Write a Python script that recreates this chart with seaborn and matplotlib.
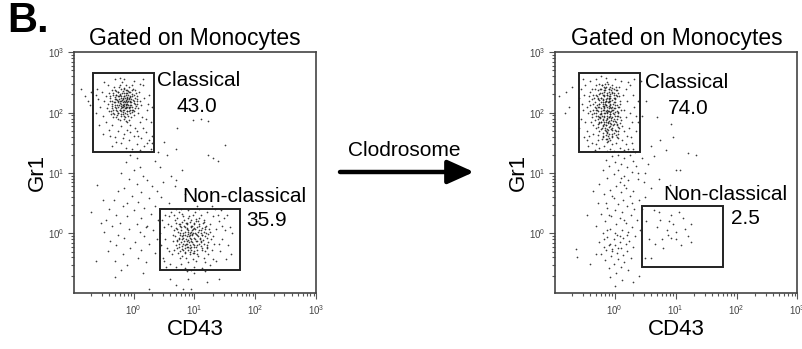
import numpy as np
import pandas as pd
import seaborn as sns
import matplotlib
matplotlib.use("Agg")
import matplotlib.pyplot as plt
from matplotlib.patches import Rectangle
from matplotlib.ticker import LogLocator, FixedLocator, NullFormatter, FixedFormatter

# ---------------- data (log10 of CD43, log10 of Gr1) ----------------
left_classical = [
    (-0.15,2.15),(-0.22,2.05),(-0.08,2.22),(-0.30,2.18),(-0.12,2.30),(-0.02,2.10),(-0.25,2.28),(-0.18,1.98),(-0.05,2.35),(-0.35,2.08),
    (-0.10,2.02),(-0.28,2.36),(-0.20,2.20),(0.02,2.25),(-0.14,1.92),(-0.38,2.25),(-0.06,2.05),(-0.24,2.12),(-0.16,2.40),(0.05,2.15),
    (-0.32,1.98),(-0.11,2.18),(-0.27,2.02),(-0.03,2.28),(-0.19,2.33),(-0.42,2.15),(-0.09,1.95),(-0.21,2.24),(0.00,2.02),(-0.33,2.30),
    (-0.13,2.08),(-0.26,1.90),(-0.07,2.42),(-0.17,2.12),(-0.40,2.02),(0.04,2.32),(-0.23,2.45),(-0.12,1.86),(-0.29,2.22),(-0.04,2.18),
    (-0.36,2.38),(-0.15,2.27),(0.08,2.08),(-0.20,1.94),(-0.31,2.12),(-0.09,2.12),(-0.45,2.28),(-0.01,2.40),(-0.18,2.05),(-0.25,2.35),
    (0.10,2.20),(-0.14,2.00),(-0.34,1.92),(-0.06,2.26),(-0.22,2.16),(-0.11,2.38),(-0.28,2.08),(0.01,1.96),(-0.39,2.20),(-0.17,2.22),
    (-0.08,1.88),(-0.24,2.42),(0.06,2.28),(-0.30,2.26),(-0.13,2.14),(-0.19,2.50),(-0.02,2.04),(-0.43,2.08),(-0.10,2.32),(-0.27,1.96),
    (0.12,2.12),(-0.16,1.90),(-0.35,2.14),(-0.05,2.20),(-0.21,2.08),(-0.12,2.46),(-0.32,2.42),(0.03,2.38),(-0.18,2.36),(-0.26,2.20),
    (-0.07,2.10),(-0.23,1.88),(-0.14,2.24),(-0.37,1.98),(0.07,2.00),(-0.10,2.26),(-0.29,2.30),(-0.04,1.92),(-0.20,2.28),(-0.48,2.20),
    (0.00,2.16),(-0.15,2.04),(-0.33,2.04),(-0.09,2.36),(-0.25,2.00),(0.09,2.34),(-0.12,2.10),(-0.40,2.32),(-0.18,2.18),(-0.03,2.46),
    (-0.14,2.17),(-0.19,2.09),(-0.07,2.25),(-0.27,2.13),(-0.11,2.03),(-0.01,2.21),(-0.23,2.31),(-0.17,2.01),(-0.04,2.13),(-0.31,2.23),
    (-0.09,2.29),(-0.21,1.97),(-0.13,2.37),(0.03,2.07),(-0.25,2.17),(-0.06,1.99),(-0.35,2.11),(-0.16,2.27),(-0.02,2.31),(-0.29,2.05),
    (-0.10,2.15),(-0.20,2.39),(0.01,2.19),(-0.33,2.33),(-0.15,1.95),(-0.05,2.09),(-0.24,2.23),(-0.12,2.21),(-0.37,2.03),(0.05,2.23),
    (-0.18,2.13),(-0.08,2.35),(-0.28,1.93),(-0.03,2.01),(-0.22,2.29),(-0.14,2.07),(-0.32,2.17),(0.00,2.29),(-0.19,2.21),(-0.10,1.97),
    (-0.26,2.09),(-0.06,2.17),(-0.16,2.33),(-0.39,2.27),(0.04,2.11),(-0.21,2.03),(-0.11,2.25),(-0.30,2.37),(-0.04,2.23),(-0.17,2.09),
    (-0.24,2.27),(-0.08,2.07),(-0.34,1.99),(-0.13,2.19),(0.02,2.15),(-0.27,2.21),(-0.15,2.11),(-0.05,2.27),(-0.20,2.15),(-0.12,2.33),
    (-0.36,2.19),(-0.01,2.05),(-0.23,2.05),(-0.09,2.19),(-0.18,2.25),(-0.28,2.29),(-0.07,2.03),(-0.16,2.19),(-0.03,2.37),(-0.25,1.99),
    (-0.13,2.13),(-0.31,2.09),(-0.10,2.23),(-0.20,2.11),(0.06,2.19),(-0.26,2.35),(-0.15,2.41),(-0.06,2.13),(-0.22,2.19),(-0.11,2.09),
    (-0.52,2.35),(-0.55,2.10),(-0.58,2.22),(-0.50,1.95),(-0.60,2.40),(0.18,2.25),(0.22,2.05),(0.15,2.45),(0.25,2.30),(0.20,1.90),
    (-0.30,2.55),(-0.15,2.55),(0.00,2.52),(-0.22,2.58),(0.10,2.48),(-0.45,1.85),(-0.35,1.80),(-0.20,1.78),(-0.05,1.80),(0.10,1.85),
    (-0.10,1.72),(0.05,1.70),(-0.25,1.70),(0.15,1.75),(-0.40,1.72),(-0.15,1.65),(0.00,1.62),(0.20,1.68),(-0.30,1.60),(0.12,1.58),
    (-0.08,1.55),(0.25,1.55),(-0.20,1.50),(0.05,1.48),(0.18,1.45),(-0.12,1.42),(0.28,1.40),(-0.02,1.40),(0.10,1.38),(-0.35,1.45),
    (0.30,1.62),(0.28,1.85),(0.30,2.10),(-0.62,2.00),(-0.57,1.80),(-0.48,2.50),(0.16,2.55),(-0.05,1.68),(0.08,1.62),(-0.18,1.58),
    (-0.50,1.65),(0.22,1.50),(-0.28,1.52),(0.14,1.92),(-0.42,2.45),(-0.62,2.30),(0.24,2.15),(0.02,1.75),(-0.38,1.62),(-0.10,1.85),
    (-0.87,2.40),(-0.80,2.28),(-0.75,2.20),(-0.70,2.35),(-0.72,2.12),
]
left_nonclassical = [
    (0.93,-0.07),(0.85,0.02),(1.02,-0.12),(0.78,-0.15),(1.10,0.05),(0.90,-0.22),(0.72,0.08),(1.05,-0.02),(0.82,-0.28),(1.15,-0.18),
    (0.95,0.10),(0.68,-0.05),(1.00,-0.30),(0.88,0.15),(1.20,-0.08),(0.75,-0.22),(0.98,0.00),(1.08,0.12),(0.80,-0.10),(0.92,-0.35),
    (1.25,0.02),(0.70,0.18),(1.12,-0.25),(0.86,-0.18),(1.03,0.20),(0.64,-0.12),(0.96,-0.15),(1.18,0.10),(0.77,0.00),(0.90,0.05),
    (1.06,-0.38),(0.83,0.22),(1.22,-0.15),(0.73,-0.32),(0.99,-0.22),(1.14,0.18),(0.87,-0.05),(0.66,0.05),(1.30,-0.05),(0.94,0.22),
    (0.80,-0.38),(1.09,-0.08),(0.76,0.12),(1.01,0.08),(0.89,-0.28),(1.17,-0.30),(0.69,-0.20),(0.97,-0.42),(1.26,0.15),(0.84,0.10),
    (1.04,-0.20),(0.62,0.12),(0.91,0.28),(1.13,-0.02),(0.79,-0.26),(1.21,-0.22),(0.74,-0.08),(0.95,-0.10),(1.07,0.25),(0.86,-0.40),
    (1.32,-0.18),(0.67,-0.28),(1.00,0.15),(0.82,0.28),(1.15,-0.40),(0.92,-0.02),(0.71,0.25),(1.24,0.08),(0.88,-0.12),(1.02,-0.45),
    (0.78,0.06),(1.11,0.30),(0.96,0.06),(0.63,-0.35),(1.19,0.00),(0.85,-0.32),(1.28,-0.28),(0.74,0.15),(0.99,-0.32),(1.06,0.02),
    (0.81,-0.02),(1.16,0.22),(0.93,-0.25),(0.68,0.22),(1.23,-0.35),(0.87,0.18),(1.05,-0.28),(0.76,-0.40),(0.98,0.30),(1.10,-0.12),
    (0.84,-0.20),(1.35,0.08),(0.72,-0.12),(0.94,0.12),(1.18,-0.48),(0.90,-0.48),(1.27,-0.10),(0.65,-0.02),(1.01,0.35),(0.80,0.32),
    (0.91,-0.05),(0.83,-0.13),(1.01,0.01),(0.76,-0.03),(0.97,-0.17),(1.09,-0.09),(0.87,0.07),(0.94,-0.27),(1.13,0.09),(0.79,-0.21),
    (1.04,-0.13),(0.89,-0.01),(0.71,-0.11),(1.17,-0.05),(0.96,0.13),(0.84,-0.31),(1.07,0.15),(0.73,0.03),(0.99,-0.07),(1.21,-0.19),
    (0.86,0.17),(0.92,-0.19),(1.03,-0.23),(0.78,0.11),(1.11,-0.15),(0.95,0.03),(0.81,-0.07),(1.15,0.03),(0.88,-0.23),(1.00,0.09),
    (0.75,-0.17),(1.06,-0.05),(0.93,0.19),(0.82,0.01),(1.19,0.13),(0.98,-0.33),(0.69,0.09),(1.12,-0.27),(0.90,-0.11),(1.02,0.23),
    (0.85,-0.25),(0.96,-0.03),(1.08,0.05),(0.77,-0.29),(1.23,-0.01),(0.88,0.09),(0.94,-0.13),(1.05,-0.35),(0.80,0.19),(1.14,-0.11),
    (0.92,0.01),(0.99,0.17),(0.74,-0.09),(1.10,-0.21),(0.87,-0.17),(1.01,-0.09),(0.83,0.13),(1.16,0.19),(0.95,-0.23),(0.79,-0.05),
    (1.04,0.11),(0.90,0.25),(1.20,-0.25),(0.86,-0.09),(0.97,0.07),(1.08,-0.17),(0.72,-0.25),(0.93,-0.31),(1.13,-0.03),(0.82,-0.17),
    (1.00,-0.19),(0.89,0.03),(1.18,0.07),(0.77,0.15),(0.96,-0.01),(1.06,0.21),(0.84,-0.03),(1.11,0.01),(0.91,-0.15),(1.02,-0.01),
    (0.50,0.10),(0.55,-0.25),(0.48,-0.40),(0.58,0.28),(0.52,-0.10),(1.40,0.20),(1.45,-0.10),(1.50,0.05),(1.42,-0.30),(1.55,-0.20),
    (1.38,0.30),(1.48,0.25),(1.58,0.10),(1.36,-0.45),(0.60,-0.50),(0.70,-0.55),(0.85,-0.58),(1.00,-0.55),(1.12,-0.58),(1.25,-0.52),
    (0.95,-0.60),(0.78,-0.50),(1.30,-0.42),(0.62,0.35),(0.75,0.35),(0.90,0.38),(1.20,0.35),(1.30,0.28),(0.56,0.15),(0.46,0.22),
    (1.44,0.38),(0.54,-0.55),(1.60,-0.35),(0.45,-0.20),(1.52,-0.42),(1.34,0.40),(0.66,0.30),(1.08,0.40),(0.58,-0.30),(1.46,0.12),
    (0.50,-0.45),(1.40,-0.18),(1.54,0.30),(0.88,-0.62),(1.18,-0.62),(0.44,0.00),(1.62,0.00),(1.05,0.45),(0.70,0.40),(1.28,0.45),
    (0.90,-0.75),(1.20,-0.80),(0.70,-0.85),(0.95,-0.93),
]
left_other = [
    (-0.05,1.30),(0.05,1.25),(-0.12,1.18),(0.10,1.10),(0.00,1.05),(-0.20,1.00),(0.15,0.95),(-0.08,0.90),(0.22,0.88),(0.05,0.82),
    (-0.15,0.75),(0.30,0.78),(-0.25,0.70),(0.12,0.68),(0.38,0.70),(-0.02,0.62),(0.25,0.58),(-0.32,0.55),(0.45,0.60),(0.08,0.52),
    (-0.18,0.45),(0.18,0.42),(-0.40,0.40),(0.35,0.45),(0.00,0.38),(-0.28,0.30),(0.28,0.32),(-0.10,0.28),(0.12,0.25),(-0.45,0.22),
    (0.40,0.22),(-0.22,0.18),(0.05,0.15),(-0.35,0.12),(0.22,0.12),(-0.08,0.08),(0.32,0.05),(-0.48,0.02),(0.10,0.02),(-0.25,-0.02),
    (0.18,-0.05),(-0.15,-0.08),(0.38,-0.10),(-0.38,-0.12),(0.02,-0.15),(-0.28,-0.20),(0.25,-0.18),(-0.05,-0.25),(0.12,-0.28),(-0.42,-0.30),
    (0.35,-0.32),(-0.18,-0.35),(0.08,-0.40),(-0.30,-0.45),(0.20,-0.48),(-0.10,-0.52),(-0.62,-0.46),(-0.30,-0.72),(0.25,-0.92),(0.82,-0.92),
    (1.41,-0.75),(-0.54,0.18),(-0.70,0.35),(0.50,1.52),(0.44,1.10),(0.72,1.75),(0.98,1.88),(1.10,1.90),(1.23,1.87),(1.23,1.30),
    (1.30,1.25),(1.39,1.20),(1.50,1.46),(0.55,1.30),(0.62,0.95),(0.70,1.40),(0.48,0.85),(0.58,0.50),(0.68,0.78),(0.80,1.05),
    (0.40,1.35),(0.30,1.50),(0.85,0.65),(0.35,1.20),(0.52,0.30),(0.78,0.40),(-0.60,0.80),(-0.50,0.55),(0.60,-0.75),(1.00,-0.65),
    (0.69,0.88),(-0.20,-0.60),(0.15,-0.65),(-0.10,0.50),(0.20,0.10),
]
right_classical = [
    (-0.18,2.00),(-0.25,2.10),(-0.10,1.92),(-0.30,1.95),(-0.15,2.20),(-0.05,2.05),(-0.22,1.85),(-0.35,2.15),(-0.12,2.30),(0.00,1.95),
    (-0.28,2.25),(-0.08,2.12),(-0.20,1.78),(-0.40,2.02),(-0.02,2.25),(-0.16,2.38),(-0.32,1.88),(-0.06,1.82),(-0.24,2.32),(0.05,2.10),
    (-0.13,2.05),(-0.36,2.30),(-0.19,2.15),(-0.09,2.40),(-0.27,2.02),(0.02,1.85),(-0.42,2.20),(-0.14,1.88),(-0.21,2.45),(-0.03,2.15),
    (-0.31,2.08),(-0.11,1.72),(-0.26,1.92),(0.07,2.28),(-0.17,2.28),(-0.38,1.92),(-0.07,1.98),(-0.23,2.18),(-0.33,2.40),(0.03,2.02),
    (-0.15,1.80),(-0.29,2.12),(-0.04,2.35),(-0.20,2.05),(-0.45,2.10),(-0.10,2.18),(-0.25,1.70),(0.08,1.92),(-0.16,2.48),(-0.34,2.00),
    (-0.01,2.08),(-0.22,2.25),(-0.12,1.95),(-0.37,2.22),(-0.05,1.75),(-0.28,1.82),(0.04,2.38),(-0.18,2.10),(-0.41,2.35),(-0.08,2.25),
    (-0.24,1.98),(-0.14,2.42),(-0.32,2.18),(0.01,2.18),(-0.20,1.88),(-0.06,2.02),(-0.27,2.38),(-0.11,1.85),(-0.39,1.85),(0.06,2.00),
    (-0.17,1.95),(-0.30,2.30),(-0.02,1.90),(-0.23,2.08),(-0.13,2.32),(-0.35,2.05),(-0.08,1.78),(-0.19,2.22),(0.09,2.15),(-0.26,2.48),
    (-0.04,2.45),(-0.15,2.02),(-0.43,2.28),(-0.10,2.08),(-0.28,1.90),(0.02,2.30),(-0.21,1.75),(-0.33,2.10),(-0.07,2.20),(-0.17,2.35),
    (-0.25,2.15),(-0.12,1.68),(0.04,1.80),(-0.37,1.98),(-0.09,2.28),(-0.22,2.00),(-0.30,1.75),(-0.03,2.00),(-0.18,2.42),(-0.44,2.00),
    (-0.14,2.12),(0.07,2.42),(-0.27,2.22),(-0.06,1.88),(-0.20,2.30),(-0.35,1.80),(0.00,2.12),(-0.16,1.72),(-0.31,2.45),(-0.11,2.02),
    (-0.24,1.92),(-0.05,2.32),(-0.40,2.12),(-0.13,1.90),(0.10,2.05),(-0.22,2.40),(-0.08,1.95),(-0.29,2.05),(-0.18,1.82),(-0.02,2.40),
    (-0.34,2.25),(-0.10,2.25),(-0.25,1.85),(0.05,1.95),(-0.16,2.18),(-0.38,2.40),(-0.07,2.10),(-0.21,1.95),(-0.13,2.50),(-0.30,2.00),
    (-0.09,2.03),(-0.14,2.13),(-0.04,1.93),(-0.19,2.21),(-0.07,2.31),(0.01,2.07),(-0.23,1.97),(-0.11,1.83),(-0.02,2.17),(-0.16,2.41),
    (-0.27,2.09),(-0.06,1.73),(0.04,2.27),(-0.13,1.91),(-0.21,2.33),(-0.09,2.19),(-0.01,1.81),(-0.17,2.05),(-0.29,2.27),(0.06,2.01),
    (-0.11,2.47),(-0.05,1.65),(-0.20,1.89),(-0.12,2.09),(0.02,2.37),(-0.25,2.15),(-0.08,1.97),(-0.15,1.69),(0.00,2.23),(-0.18,2.29),
    (-0.03,1.87),(-0.10,2.35),(-0.22,2.03),(0.05,1.77),(-0.14,1.79),(-0.07,2.15),(-0.26,1.83),(0.03,1.95),(-0.12,2.25),(-0.19,1.61),
    (-0.04,2.41),(-0.09,1.87),(-0.16,1.99),(0.08,2.19),(-0.24,2.39),(-0.06,2.07),(-0.13,1.57),(0.01,1.71),(-0.20,2.11),(-0.10,1.77),
    (-0.02,2.29),(-0.28,1.95),(-0.08,2.43),(0.04,1.89),(-0.17,1.85),(-0.11,2.17),(-0.23,1.73),(0.00,2.01),(-0.05,1.59),(-0.15,2.23),
    (-0.09,1.65),(0.07,2.09),(-0.21,2.45),(-0.13,2.01),(-0.03,1.79),(-0.18,1.93),(-0.26,2.21),(0.02,1.63),(-0.07,2.27),(-0.12,1.73),
    (-0.01,1.97),(-0.16,2.15),(-0.30,2.05),(0.05,2.33),(-0.10,1.93),(-0.20,1.67),(-0.06,2.37),(-0.14,1.85),(0.03,2.13),(-0.24,1.91),
    (-0.08,1.55),(-0.17,2.37),(-0.04,2.09),(-0.11,1.61),(0.09,1.83),(-0.22,2.25),(-0.02,1.67),(-0.13,2.29),(-0.27,1.77),(0.00,1.87),
    (-0.09,2.11),(-0.19,1.79),(0.06,1.69),(-0.05,2.21),(-0.15,1.63),(-0.25,2.31),(-0.07,1.83),(0.02,2.43),(-0.12,1.99),(-0.21,1.57),
    (-0.03,2.05),(-0.16,1.75),(0.04,1.59),(-0.10,2.39),(-0.18,2.07),(-0.06,1.91),(-0.28,1.63),(0.01,2.25),(-0.13,1.67),(-0.08,2.01),
    (-0.23,1.85),(0.07,1.75),(-0.14,2.19),(-0.04,1.71),(-0.20,2.17),(-0.01,2.33),(-0.11,1.53),(-0.17,2.11),(0.03,1.81),(-0.09,2.23),
    (-0.50,2.30),(-0.52,2.05),(-0.55,1.90),(-0.48,2.45),(-0.54,2.15),(-0.58,1.75),(-0.50,1.60),(-0.46,1.70),(0.20,2.20),(0.25,2.00),
    (0.18,2.40),(0.28,1.85),(0.22,2.50),(0.30,2.30),(0.15,1.70),(0.32,2.10),(0.26,1.60),(0.35,1.95),(0.12,1.55),(0.18,1.48),
    (-0.30,2.55),(-0.15,2.58),(0.00,2.55),(-0.40,2.52),(0.10,2.52),(-0.22,2.60),(-0.35,1.65),(-0.20,1.60),(-0.05,1.62),(0.05,1.65),
    (-0.28,1.55),(-0.12,1.52),(0.02,1.50),(-0.38,1.50),(-0.18,1.45),(0.08,1.42),(-0.08,1.40),(-0.25,1.42),(0.15,1.38),(-0.02,1.36),
    (-0.32,1.38),(0.22,1.40),(-0.12,1.36),(0.05,1.58),(-0.45,1.55),(0.28,1.50),(0.35,1.70),(-0.56,2.40),(0.38,2.20),(0.12,1.78),
    (-0.42,1.62),(0.20,1.62),(-0.15,1.56),(-0.05,1.48),(0.25,2.45),(0.30,1.40),(-0.48,1.85),(0.38,1.85),(-0.52,2.55),(0.14,2.30),
    (0.16,2.05),(0.10,1.88),(-0.44,1.45),(0.32,2.55),(-0.10,1.58),(0.02,1.70),(-0.30,1.48),(0.18,1.92),(0.24,1.75),(-0.58,2.25),
    (-0.92,2.28),(-0.80,2.35),(-0.75,2.10),(-0.70,2.42),(-0.82,2.00),(0.43,2.52),(0.51,2.20),(0.69,1.92),(0.93,1.82),(0.45,1.95),
]
right_other = [
    (0.05,1.30),(-0.05,1.28),(0.15,1.25),(0.25,1.30),(-0.15,1.22),(0.30,1.20),(0.00,1.18),(0.10,1.15),(-0.10,1.12),(0.20,1.10),
    (0.35,1.12),(-0.20,1.05),(0.05,1.05),(0.28,1.02),(-0.02,0.98),(0.15,0.95),(-0.12,0.92),(0.22,0.88),(0.08,0.85),(0.38,0.90),
    (-0.25,0.82),(0.02,0.78),(0.18,0.75),(-0.08,0.72),(0.30,0.70),(0.10,0.68),(-0.18,0.65),(0.25,0.62),(-0.02,0.58),(0.14,0.55),
    (0.40,0.55),(-0.28,0.50),(0.06,0.48),(0.20,0.45),(-0.12,0.42),(0.32,0.40),(0.00,0.38),(0.12,0.35),(-0.22,0.32),(0.26,0.30),
    (-0.06,0.28),(0.08,0.25),(0.36,0.22),(-0.16,0.20),(0.18,0.18),(0.02,0.15),(-0.30,0.12),(0.28,0.10),(-0.08,0.08),(0.12,0.05),
    (0.22,0.02),(-0.20,0.00),(0.04,-0.02),(0.34,-0.05),(-0.12,-0.06),(0.14,-0.08),(-0.02,-0.10),(0.24,-0.12),(-0.26,-0.14),(0.08,-0.15),
    (-0.08,-0.18),(0.18,-0.18),(0.00,-0.20),(-0.18,-0.22),(0.30,-0.22),(0.10,-0.25),(-0.04,-0.26),(-0.14,-0.28),(0.20,-0.30),(0.04,-0.32),
    (-0.22,-0.34),(0.14,-0.36),(-0.06,-0.38),(0.26,-0.40),(0.06,-0.42),(-0.16,-0.44),(0.16,-0.48),(-0.02,-0.50),(0.10,-0.55),(-0.10,-0.58),
    (0.22,-0.60),(0.02,-0.65),(-0.08,-0.72),(0.12,-0.78),(0.00,-0.88),(-0.04,0.62),(0.10,0.92),(-0.10,0.30),(0.20,-0.02),(-0.05,-0.30),
    (0.08,-0.05),(-0.12,0.05),(0.15,0.22),(0.00,0.00),(-0.18,-0.10),(0.06,-0.24),(-0.10,-0.20),(0.28,0.50),(0.16,0.80),(-0.15,0.50),
    (0.33,1.35),(0.45,1.25),(0.55,1.15),(0.39,1.00),(0.72,0.90),(1.00,1.05),(1.07,1.05),(0.84,1.38),(1.21,1.33),(1.33,1.30),
    (0.60,0.75),(0.50,0.60),(0.48,0.85),(0.65,1.28),(0.45,0.40),(0.52,0.20),(-0.64,-0.26),(-0.62,-0.39),(-0.45,0.30),(-0.40,-0.50),
    (0.40,-0.70),(0.30,-0.80),(-0.35,0.70),(0.42,0.05),(-0.30,-0.35),(0.95,1.60),(0.75,1.55),(0.60,1.45),(0.90,0.80),(0.50,1.00),
]
right_nonclassical = [
    (0.93,0.31),(1.00,0.03),(0.56,-0.10),(0.77,-0.10),(0.93,-0.07),(1.00,-0.10),(1.16,0.07),(1.25,0.15),(0.50,-0.40),(0.59,-0.40),
    (1.26,-0.15),(0.89,0.20),(0.72,0.36),(0.64,0.39),(0.85,0.05),(1.08,-0.20),(0.70,0.10),(1.12,0.25),(0.80,-0.25),(0.95,0.15),
    (1.20,-0.05),(0.66,-0.18),(1.05,0.35),(0.88,-0.02),(0.75,0.22),
]

# gates: (CD43 min, CD43 max, Gr1 min, Gr1 max)
left_gates = {"Classical": (0.22, 2.15, 22, 457), "Non-classical": (2.7, 55, 0.25, 2.5)}
right_gates = {"Classical": (0.26, 2.6, 22, 455), "Non-classical": (2.8, 61, 0.28, 2.8)}
left_pcts = {"Classical": "43.0", "Non-classical": "35.9"}
right_pcts = {"Classical": "74.0", "Non-classical": "2.5"}
tick_values = [1, 10, 100, 1000]
tick_labels = [r"$10^{0}$", r"$10^{1}$", r"$10^{2}$", r"$10^{3}$"]

# ---------------- drawing ----------------
sns.set_theme(style="white")
plt.rcParams["font.family"] = ["Liberation Sans", "DejaVu Sans"]
plt.rcParams["mathtext.fontset"] = "custom"
plt.rcParams["mathtext.rm"] = "Liberation Sans"
plt.rcParams["mathtext.it"] = "Liberation Sans"
plt.rcParams["text.color"] = "black"
plt.rcParams["axes.labelcolor"] = "black"

W, H = 803, 349
fig = plt.figure(figsize=(W / 100, H / 100), dpi=100)


def px(x, y):
    return x / W, 1 - y / H


def frame(groups):
    rows = []
    for name, pts in groups.items():
        for lx, ly in pts:
            rows.append((name, 10 ** lx, 10 ** ly))
    return pd.DataFrame(rows, columns=["pop", "CD43", "Gr1"])


def panel(left_px, groups, gates):
    x0, y0 = px(left_px, 293.3)
    ax = fig.add_axes([x0, y0, 242 / W, 241 / H])
    df = frame(groups)
    sns.scatterplot(data=df, x="CD43", y="Gr1", s=1.5, color="#1a1a1a",
                    linewidth=0, alpha=0.85, ax=ax, legend=False)
    ax.set_xscale("log")
    ax.set_yscale("log")
    ax.set_xlim(10 ** -0.972, 1000)
    ax.set_ylim(10 ** -0.993, 1000)
    for (gx0, gx1, gy0, gy1) in gates.values():
        ax.add_patch(Rectangle((gx0, gy0), gx1 - gx0, gy1 - gy0, fill=False,
                               lw=1.4, ec="#222222", zorder=3))
    for axis in (ax.xaxis, ax.yaxis):
        axis.set_major_locator(FixedLocator(tick_values))
        axis.set_major_formatter(FixedFormatter(tick_labels))
        axis.set_minor_locator(LogLocator(base=10, subs=np.arange(2, 10), numticks=20))
        axis.set_minor_formatter(NullFormatter())
    ax.tick_params(which="both", direction="out", bottom=True, left=True,
                   top=False, right=False, color="#555555", width=0.8)
    ax.tick_params(which="major", length=4, labelsize=7, labelcolor="#444444", pad=3)
    ax.tick_params(which="minor", length=2.2)
    for sp in ax.spines.values():
        sp.set_color("#444444")
        sp.set_linewidth(1.2)
    ax.set_title("Gated on Monocytes", fontsize=16.5, pad=5)
    ax.set_xlabel("CD43", fontsize=16)
    ax.set_ylabel("Gr1", fontsize=16)
    ax.xaxis.set_label_coords(0.5, -0.105)
    ax.yaxis.set_label_coords(-0.11, 0.5)
    return ax


axL = panel(74.3, {"Classical": left_classical, "Non-classical": left_nonclassical,
                   "Other": left_other}, left_gates)
axR = panel(555.5, {"Classical": right_classical, "Non-classical": right_nonclassical,
                    "Other": right_other}, right_gates)

lab = dict(fontsize=15, ha="left", va="center", color="black")
fig.text(*px(157, 80), "Classical", **lab)
fig.text(*px(177, 106), left_pcts["Classical"], **lab)
fig.text(*px(182, 197), "Non-classical", **lab)
fig.text(*px(246, 221), left_pcts["Non-classical"], **lab)

fig.text(*px(645, 82), "Classical", **lab)
fig.text(*px(668, 108), right_pcts["Classical"], **lab)
fig.text(*px(663, 195), "Non-classical", **lab)
fig.text(*px(731, 218), right_pcts["Non-classical"], **lab)

fig.text(*px(7, 21), "B.", fontsize=30, fontweight="bold", ha="left", va="center")
fig.text(*px(404, 150), "Clodrosome", fontsize=15, ha="center", va="center")
axL.annotate("", xy=px(474, 172), xytext=px(340, 172),
             xycoords="figure fraction", textcoords="figure fraction",
             arrowprops=dict(arrowstyle="-|>,head_length=1.0,head_width=0.45",
                             lw=3.2, color="black", mutation_scale=16,
                             shrinkA=0, shrinkB=0))

fig.savefig("out.png", dpi=100)
